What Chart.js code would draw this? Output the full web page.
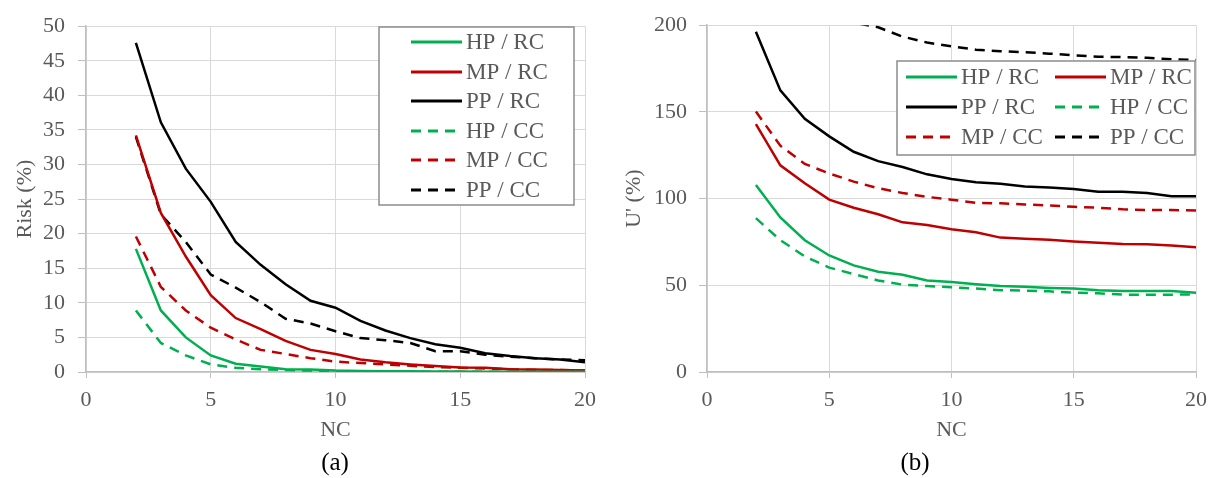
<!DOCTYPE html>
<html>
<head>
<meta charset="utf-8">
<script src="https://cdn.jsdelivr.net/npm/chart.js@4.4.1/dist/chart.umd.min.js"></script>
<style>
	body { margin: 0; background: #fff; width: 1218px; height: 478px; position: relative; overflow: hidden; font-family: "Liberation Serif", "Times New Roman", serif; }
	.panel { position: absolute; top: 0; }
	.caption { position: absolute; top: 447px; font-size: 25px; line-height: 30px; color: #000; transform: translateX(-50%); }
</style>
</head>
<body>
<canvas id="riskChart" class="panel" width="609" height="478" style="left:0"></canvas>
<canvas id="utilChart" class="panel" width="609" height="478" style="left:609px"></canvas>
<div class="caption" style="left:335px">(a)</div>
<div class="caption" style="left:915px">(b)</div>

<script>
// number of clusters
const nc = [2, 3, 4, 5, 6, 7, 8, 9, 10, 11, 12, 13, 14, 15, 16, 17, 18, 19, 20];

const seriesNames = ["HP / RC", "MP / RC", "PP / RC", "HP / CC", "MP / CC", "PP / CC"];

// risk (%)
const riskHpRc = [17.8, 8.9, 5.0, 2.4, 1.2, 0.8, 0.4, 0.35, 0.2, 0.15, 0.1, 0.1, 0.08, 0.06, 0.05, 0.05, 0.05, 0.05, 0.05];
const riskMpRc = [34.2, 23.0, 16.7, 11.1, 7.8, 6.2, 4.5, 3.2, 2.6, 1.8, 1.4, 1.1, 0.85, 0.65, 0.6, 0.4, 0.35, 0.3, 0.2];
const riskPpRc = [47.6, 36.1, 29.4, 24.6, 18.8, 15.5, 12.7, 10.3, 9.3, 7.4, 6.0, 4.9, 4.0, 3.5, 2.7, 2.3, 2.0, 1.8, 1.4];
const riskHpCc = [8.9, 4.2, 2.4, 1.1, 0.6, 0.4, 0.3, 0.2, 0.1, 0.08, 0.06, 0.05, 0.05, 0.04, 0.04, 0.03, 0.03, 0.03, 0.03];
const riskMpCc = [19.6, 12.3, 8.9, 6.4, 4.7, 3.2, 2.6, 2.0, 1.5, 1.3, 1.1, 0.9, 0.7, 0.6, 0.5, 0.4, 0.3, 0.3, 0.2];
const riskPpCc = [34.0, 22.8, 18.8, 14.1, 12.2, 10.1, 7.7, 7.0, 5.9, 4.9, 4.6, 4.2, 3.0, 3.0, 2.5, 2.2, 2.0, 1.8, 1.7];

// U' (%)
const uHpRc = [107.9, 89.1, 76.0, 67.2, 61.5, 57.8, 56.1, 52.8, 51.9, 50.6, 49.6, 49.1, 48.5, 48.1, 47.2, 46.7, 46.7, 46.7, 45.7];
const uMpRc = [143.0, 119.2, 108.8, 99.4, 94.7, 91.0, 86.3, 84.8, 82.3, 80.6, 77.5, 76.9, 76.2, 75.3, 74.5, 73.8, 73.7, 72.9, 72.0];
const uPpRc = [196.2, 162.4, 146.0, 135.9, 127.0, 121.6, 118.2, 114.0, 111.3, 109.4, 108.5, 107.0, 106.4, 105.5, 103.9, 103.9, 103.2, 101.3, 101.3];
const uHpCc = [88.7, 76.0, 66.7, 60.2, 56.5, 52.8, 50.4, 49.6, 48.9, 48.1, 47.2, 46.9, 46.5, 45.7, 45.4, 44.6, 44.6, 44.6, 44.8];
const uMpCc = [150.2, 130.5, 120.0, 114.5, 109.8, 106.0, 103.2, 101.0, 99.4, 97.5, 97.3, 96.6, 96.0, 95.3, 94.7, 93.8, 93.4, 93.4, 93.2];
const uPpCc = [260, 230, 215, 207, 201.5, 198.8, 193.4, 190.0, 187.8, 185.9, 185.0, 184.4, 183.6, 182.7, 181.8, 181.6, 181.2, 180.3, 179.9];

// axis ticks
const xTicks = [0, 5, 10, 15, 20];
const riskTicks = [0, 5, 10, 15, 20, 25, 30, 35, 40, 45, 50];
const uTicks = [0, 50, 100, 150, 200];

const colors = ["#00b050", "#c00000", "#000000", "#00b050", "#c00000", "#000000"];
const DASH = [10, 7];

Chart.defaults.font.family = '"Liberation Serif", "Times New Roman", serif';
Chart.defaults.font.size = 22;
Chart.defaults.color = "#595959";

//turns the value lists into line datasets (first three solid, last three dashed)
function buildDatasets(lists) {
	return lists.map((values, i) => ({
		label: seriesNames[i],
		data: values.map((v, j) => ({ x: nc[j], y: v })),
		borderColor: colors[i],
		borderWidth: 2.5,
		borderDash: i >= 3 ? DASH : [],
		pointRadius: 0,
		tension: 0,
		fill: false,
	}));
}

//legend drawn in a white framed box inside the plot
const boxLegend = {
	id: "boxLegend",
	afterDraw(chart, args, opts) {
		const ctx = chart.ctx;
		ctx.save();
		ctx.setLineDash([]);
		ctx.fillStyle = "#ffffff";
		ctx.fillRect(opts.x, opts.y, opts.w, opts.h);
		ctx.strokeStyle = "#8c8c8c";
		ctx.lineWidth = 1.5;
		ctx.strokeRect(opts.x, opts.y, opts.w, opts.h);
		ctx.font = '23px "Liberation Serif", "Times New Roman", serif';
		ctx.textBaseline = "middle";
		ctx.textAlign = "left";
		chart.data.datasets.forEach((ds, i) => {
			const col = i % opts.colX.length;
			const row = Math.floor(i / opts.colX.length);
			const x = opts.colX[col];
			const y = opts.rowY[row];
			ctx.strokeStyle = ds.borderColor;
			ctx.lineWidth = 3;
			ctx.setLineDash(ds.borderDash);
			ctx.beginPath();
			ctx.moveTo(x, y);
			ctx.lineTo(x + opts.sample, y);
			ctx.stroke();
			ctx.setLineDash([]);
			ctx.fillStyle = "#595959";
			ctx.fillText(ds.label, x + opts.sample + 4, y + 1);
		});
		ctx.restore();
	},
};

//one panel: line chart with fixed plot area and legend box
function makeChart(id, lists, yTicks, yTitle, yWidth, yPad, rightPad, legend) {
	const ctx = document.getElementById(id).getContext("2d");
	return new Chart(ctx, {
		type: "line",
		data: { datasets: buildDatasets(lists) },
		plugins: [boxLegend],
		options: {
			responsive: false,
			animation: false,
			layout: { padding: { left: 0, top: 19, right: rightPad, bottom: 0 } },
			plugins: {
				legend: { display: false },
				tooltip: { enabled: false },
				boxLegend: legend,
			},
			scales: {
				x: {
					type: "linear",
					min: xTicks[0],
					max: xTicks[xTicks.length - 1],
					afterBuildTicks: (scale) => { scale.ticks = xTicks.map(v => ({ value: v })); },
					afterFit: (scale) => { scale.height = 478 - 372; },
					grid: { color: "#d9d9d9", tickColor: "#bfbfbf", tickLength: 6 },
					border: { color: "#bfbfbf", width: 1.5 },
					ticks: { padding: 9, color: "#595959", maxRotation: 0 },
					title: { display: true, text: "NC", color: "#595959", padding: { top: 0, bottom: 35 } },
				},
				y: {
					type: "linear",
					min: yTicks[0],
					max: yTicks[yTicks.length - 1],
					afterBuildTicks: (scale) => { scale.ticks = yTicks.map(v => ({ value: v })); },
					afterFit: (scale) => { scale.width = yWidth; },
					grid: { color: "#d9d9d9", tickColor: "#bfbfbf", tickLength: 8 },
					border: { color: "#bfbfbf", width: 1.5 },
					ticks: { padding: yPad, color: "#595959" },
					title: { display: true, text: yTitle, color: "#595959", padding: { top: 12, bottom: 0 } },
				},
			},
		},
	});
}

makeChart("riskChart",
	[riskHpRc, riskMpRc, riskPpRc, riskHpCc, riskMpCc, riskPpCc],
	riskTicks, "Risk (%)", 86, 13, 24,
	{ x: 379, y: 27, w: 195, h: 178, colX: [411], rowY: [42, 72, 101, 131, 160, 190], sample: 51 });

makeChart("utilChart",
	[uHpRc, uMpRc, uPpRc, uHpCc, uMpCc, uPpCc],
	uTicks, "U' (%)", 98, 12, 22,
	{ x: 288, y: 61, w: 298, h: 94, colX: [297, 446], rowY: [77, 107, 137], sample: 51 });
</script>
</body>
</html>
